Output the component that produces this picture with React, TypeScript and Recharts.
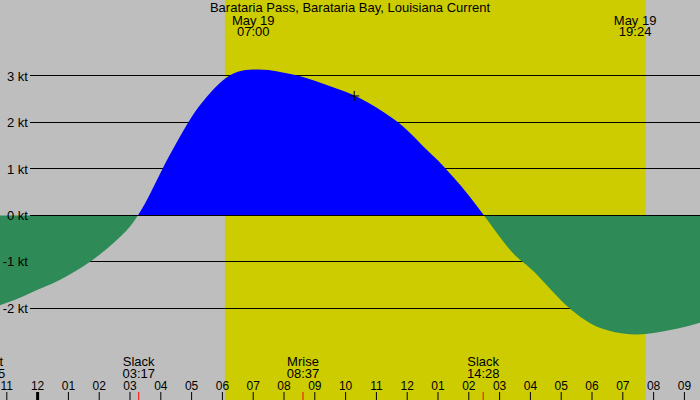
import React from 'react';
import {
  ComposedChart,
  Area,
  XAxis,
  YAxis,
  ReferenceArea,
  ReferenceLine,
  ReferenceDot,
} from 'recharts';

// half-hourly readings, hours from midnight of May 19 (negative = evening before)
const hours = [
  -1.5, -1, -0.5, 0, 0.5, 1, 1.5, 2, 2.5, 3, 3.5, 4, 4.5, 5, 5.5, 6, 6.5, 7, 7.5,
  8, 8.5, 9, 9.5, 10, 10.5, 11, 11.5, 12, 12.5, 13, 13.5, 14, 14.5, 15, 15.5, 16,
  16.5, 17, 17.5, 18, 18.5, 19, 19.5, 20, 20.5, 21, 21.5, 22,
];
// current speed in knots (flood positive, ebb negative)
const speeds = [
  -2.0, -1.88, -1.75, -1.6, -1.46, -1.29, -1.09, -0.85, -0.57, -0.24, 0.27, 0.93,
  1.55, 2.12, 2.56, 2.9, 3.09, 3.14, 3.13, 3.07, 3.0, 2.9, 2.78, 2.66, 2.51, 2.32,
  2.1, 1.83, 1.5, 1.18, 0.82, 0.43, -0.01, -0.46, -0.86, -1.14, -1.48, -1.83, -2.12,
  -2.34, -2.47, -2.54, -2.56, -2.53, -2.47, -2.4, -2.31, -2.21,
];

const hourTicks = [
  -1, 0, 1, 2, 3, 4, 5, 6, 7, 8, 9, 10, 11, 12, 13, 14, 15, 16, 17, 18, 19, 20, 21,
];
const speedTicks = [-2, -1, 0, 1, 2, 3];
const timeDomain = [-1.221, 21.506];
const speedDomain = [-3.972, 4.635];
const gridStart = -0.25;

const daylight = [6.08, 19.74];

const eventTimes = [-1.58, 3.283, 8.617, 14.467];
const eventNames = ['Mset', 'Slack', 'Mrise', 'Slack'];
const eventClocks = ['22:25', '03:17', '08:37', '14:28'];

const peakTimes = [7.0, 19.4];
const peakDates = ['May 19', 'May 19'];
const peakClocks = ['07:00', '19:24'];

const cursorTime = 10.28;
const cursorSpeed = 2.57;

const title = 'Barataria Pass, Barataria Bay, Louisiana Current';

const FONT = '"Liberation Sans", Arial, sans-serif';
const W = 700;
const H = 400;
const MARGIN = { top: 0, right: 0, bottom: 0, left: 0 };

const data = hours.map((h, i) => ({ h, v: speeds[i] }));
const vMax = Math.max(...speeds);
const vMin = Math.min(...speeds);
const zeroOffset = vMax / (vMax - vMin);

const hourLabel = (h: number) => {
  const hh = ((h % 12) + 12) % 12;
  return String(hh === 0 ? 12 : hh).padStart(2, '0');
};

const HourTick = (props: any) => {
  const { x, y, payload } = props;
  const h = payload.value;
  return (
    <g>
      <line x1={x} x2={x} y1={y} y2={y + 8} stroke="#000" strokeWidth={h === 0 ? 3 : 1} />
      <text x={x} y={y - 2} textAnchor="middle" fontSize={12} fontFamily={FONT} fill="#000">
        {hourLabel(h)}
      </text>
    </g>
  );
};

const eventMark = (name: string, clock: string) => (props: any) => {
  const vb = props.viewBox || {};
  const x = vb.x;
  const bottom = vb.y + vb.height;
  return (
    <g>
      <line x1={x} x2={x} y1={bottom - 8} y2={bottom} stroke="#ff0000" />
      <text x={x} y={bottom - 34} textAnchor="middle" fontSize={13} fontFamily={FONT} fill="#000">
        {name}
      </text>
      <text x={x} y={bottom - 22} textAnchor="middle" fontSize={13} fontFamily={FONT} fill="#000">
        {clock}
      </text>
    </g>
  );
};

const peakMark = (date: string, clock: string) => (props: any) => {
  const vb = props.viewBox || {};
  return (
    <g>
      <text x={vb.x} y={vb.y + 24.5} textAnchor="middle" fontSize={13} fontFamily={FONT} fill="#000">
        {date}
      </text>
      <text x={vb.x} y={vb.y + 36} textAnchor="middle" fontSize={13} fontFamily={FONT} fill="#000">
        {clock}
      </text>
    </g>
  );
};

const PlusShape = (props: any) => {
  const { cx, cy } = props;
  return (
    <g stroke="#000" strokeWidth={1}>
      <line x1={cx - 5} x2={cx + 5} y1={cy} y2={cy} />
      <line x1={cx} x2={cx} y1={cy - 5} y2={cy + 5} />
    </g>
  );
};

const gridRule = (v: number) => (
  <ReferenceLine
    key={`grid-${v}`}
    segment={[
      { x: gridStart, y: v },
      { x: timeDomain[1], y: v },
    ]}
    stroke="#000"
    strokeWidth={1}
    shapeRendering="crispEdges"
    ifOverflow="visible"
  />
);

// two charts share the same scales: the back one holds daylight and grid,
// the front one the flow, so the fill sits over the grid rules
export default function App() {
  return (
    <div style={{ width: W, height: H, position: 'relative', fontFamily: FONT }}>
      <style>{'body{margin:0}'}</style>
      <div style={{ position: 'absolute', left: 0, top: 0 }}>
        <ComposedChart
          width={W}
          height={H}
          data={data}
          margin={MARGIN}
          style={{ background: '#bebebe' }}
        >
          <XAxis dataKey="h" type="number" domain={timeDomain} allowDataOverflow hide />
          <YAxis type="number" domain={speedDomain} allowDataOverflow hide />
          <ReferenceArea
            x1={daylight[0]}
            x2={daylight[1]}
            fill="#cccc00"
            fillOpacity={1}
            stroke="none"
          />
          {speedTicks.filter((v) => v !== 0).map(gridRule)}
        </ComposedChart>
      </div>
      <div style={{ position: 'absolute', left: 0, top: 0 }}>
        <ComposedChart width={W} height={H} data={data} margin={MARGIN}>
          <defs>
            <linearGradient id="flowFill" x1="0" y1="0" x2="0" y2="1">
              <stop offset={0} stopColor="#0000ff" />
              <stop offset={zeroOffset} stopColor="#0000ff" />
              <stop offset={zeroOffset} stopColor="#2e8b57" />
              <stop offset={1} stopColor="#2e8b57" />
            </linearGradient>
          </defs>
          <XAxis
            dataKey="h"
            type="number"
            domain={timeDomain}
            allowDataOverflow
            ticks={hourTicks}
            interval={0}
            mirror
            height={30}
            tickSize={8}
            tickMargin={0}
            axisLine={false}
            tickLine={false}
            tick={<HourTick />}
          />
          <YAxis
            type="number"
            domain={speedDomain}
            allowDataOverflow
            ticks={speedTicks}
            interval={0}
            mirror
            tickSize={0}
            tickMargin={28}
            axisLine={false}
            tickLine={false}
            tick={{ fill: '#000', fontSize: 13, fontFamily: FONT, textAnchor: 'end' }}
            tickFormatter={(v) => `${v} kt`}
          />
          <Area
            type="natural"
            dataKey="v"
            baseValue={0}
            stroke="none"
            fill="url(#flowFill)"
            fillOpacity={1}
            dot={false}
            activeDot={false}
            isAnimationActive={false}
          />
          {gridRule(0)}
          {eventTimes.map((t, i) => (
            <ReferenceLine
              key={`ev-${i}`}
              x={t}
              stroke="none"
              ifOverflow="visible"
              label={eventMark(eventNames[i], eventClocks[i])}
            />
          ))}
          {peakTimes.map((t, i) => (
            <ReferenceLine
              key={`pk-${i}`}
              x={t}
              stroke="none"
              ifOverflow="visible"
              label={peakMark(peakDates[i], peakClocks[i])}
            />
          ))}
          <ReferenceDot
            x={cursorTime}
            y={cursorSpeed}
            ifOverflow="visible"
            shape={<PlusShape />}
          />
        </ComposedChart>
      </div>
      <div
        style={{
          position: 'absolute',
          top: 0,
          left: 0,
          width: W,
          textAlign: 'center',
          fontSize: 13,
          lineHeight: '15px',
          color: '#000',
          pointerEvents: 'none',
        }}
      >
        {title}
      </div>
    </div>
  );
}
